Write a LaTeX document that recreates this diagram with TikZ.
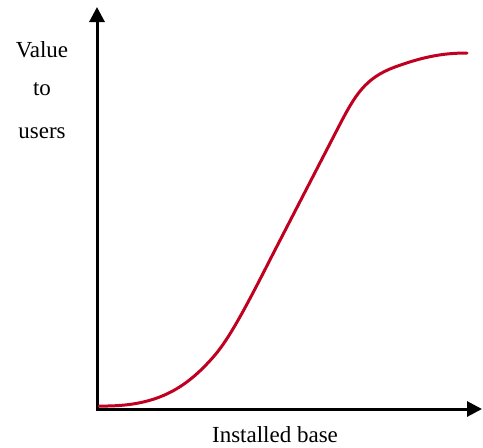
\documentclass[tikz,border=0pt]{standalone}
\usepackage{fontspec}
\setmainfont{Liberation Serif}
\usetikzlibrary{arrows.meta}
\definecolor{curvered}{RGB}{192,0,32}
\tikzset{
  axis/.style={line width=3pt, {Triangle[length=15pt,width=15pt]}-{Triangle[length=15pt,width=15pt]}},
  growth/.style={line width=3pt, curvered, line cap=round},
  lbl/.style={anchor=base, inner sep=0pt, font=\fontsize{23}{27}\selectfont}
}
\begin{document}
\begin{tikzpicture}[x=1pt,y=-1pt]
  \useasboundingbox (0,0) rectangle (483,448);
  % axes
  \coordinate (ytop) at (97,7);
  \coordinate (origin) at (97,409);
  \coordinate (xend) at (482,409);
  \draw[axis] (ytop) -- (origin) -- (xend);
  % value curve
  \coordinate (start) at (99,406);
  \coordinate (plateau) at (467,53);
  \draw[growth] (start)
    .. controls (155,407) and (185,390) .. (215,355)
    .. controls (232,335) and (252,295) .. (275,250)
    -- (338,128)
    .. controls (355,95) and (365,78) .. (395,67)
    .. controls (425,56) and (445,53) .. (plateau);
  % labels
  \node[lbl] (v1) at (42,57) {Value};
  \node[lbl] (v2) at (42,95) {to};
  \node[lbl] (v3) at (42,138) {users};
  \node[lbl] (xl) at (275,442) {Installed base};
\end{tikzpicture}
\end{document}
